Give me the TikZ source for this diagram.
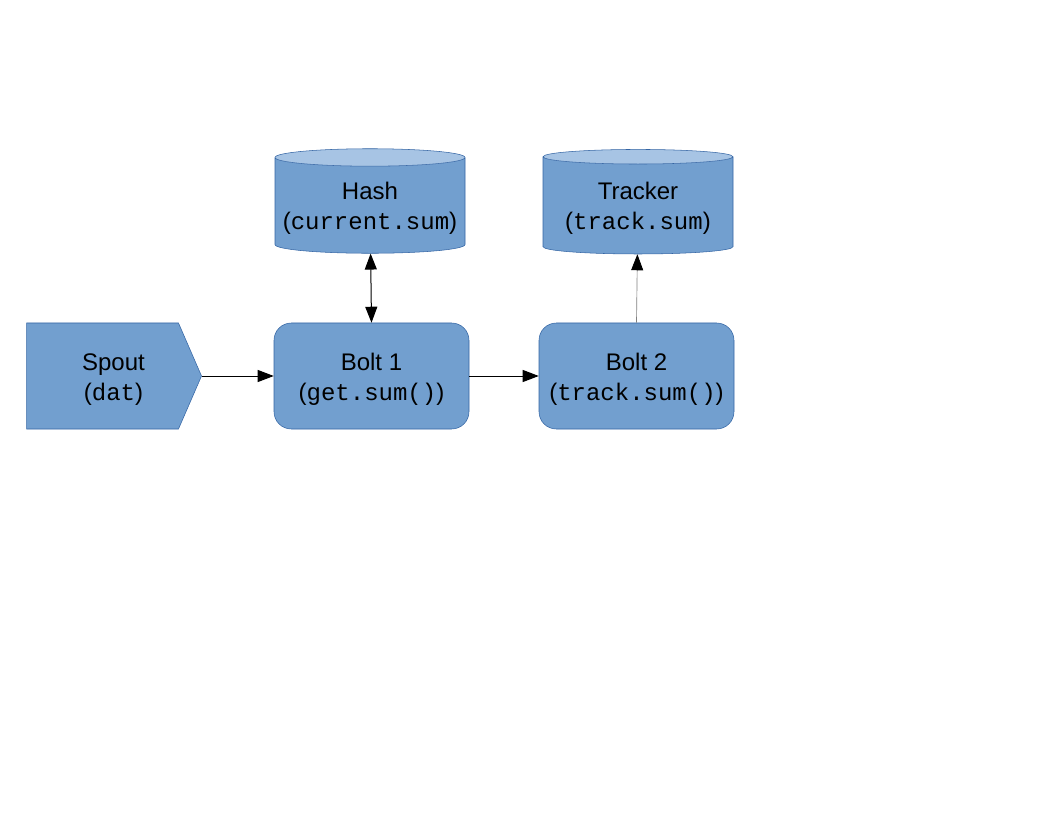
\documentclass[tikz,border=0pt]{standalone}
\usepackage{fontspec}
\setmainfont{Liberation Sans}
\setmonofont{Liberation Mono}
\usetikzlibrary{positioning}
\usetikzlibrary{shapes.geometric}
\usetikzlibrary{shapes.symbols}
\usetikzlibrary{arrows.meta}
\definecolor{boxfill}{HTML}{729FCF}
\definecolor{boxline}{HTML}{3465A4}
\definecolor{boxtop}{HTML}{A7C4E4}
% push the spout text right, off the body centre
\newcommand{\padl}{\hspace*{16.5pt}}
\tikzset{
  every node/.style={font=\fontsize{18}{22.5}\selectfont, align=center,
    text height=40pt, text depth=4pt},
  bolt/.style={rounded corners=13pt, draw=boxline, fill=boxfill, thin,
    minimum width=146.25pt, minimum height=79.5pt, inner sep=0pt},
  spoutbox/.style={signal, signal to=east, signal pointer angle=133,
    draw=boxline, fill=boxfill, thin, minimum width=131.25pt,
    minimum height=79.5pt, inner sep=0pt},
  store/.style={cylinder, shape border rotate=90, aspect=0.1,
    draw=boxline, thin, cylinder uses custom fill,
    cylinder body fill=boxfill, cylinder end fill=boxtop,
    minimum width=142.5pt, minimum height=78.4pt, inner sep=0pt},
  tri/.tip={Triangle[length=12pt, width=9pt, color=black]},
  arr/.style={-tri, line width=0.75pt},
}
\begin{document}
\begin{tikzpicture}[x=0.75pt, y=-0.75pt]
	\useasboundingbox (0,0) rectangle (1056,816);
	\node[spoutbox] (spout) at (102.5,376) {\padl Spout\\\padl(\texttt{dat})};
	\node[bolt] (bolt1) at (371.5,376) {Bolt 1\\(\texttt{get.sum()})};
	\node[bolt] (bolt2) at (636.5,376) {Bolt 2\\(\texttt{track.sum()})};
	\node[store] (hash) at (370,205.5) {Hash\\(\texttt{current.sum})};
	\node[store] (tracker) at (638,205.5) {Tracker\\(\texttt{track.sum})};
	
	\draw[arr] (spout.east) -- (bolt1.west);
	\draw[arr] (bolt1.east) -- (bolt2.west);
	\draw[tri-tri, line width=0.75pt] (bolt1.north) -- (hash);
	\draw[arr, gray, line width=0.5pt] (bolt2.north) -- (tracker);
\end{tikzpicture}
\end{document}
